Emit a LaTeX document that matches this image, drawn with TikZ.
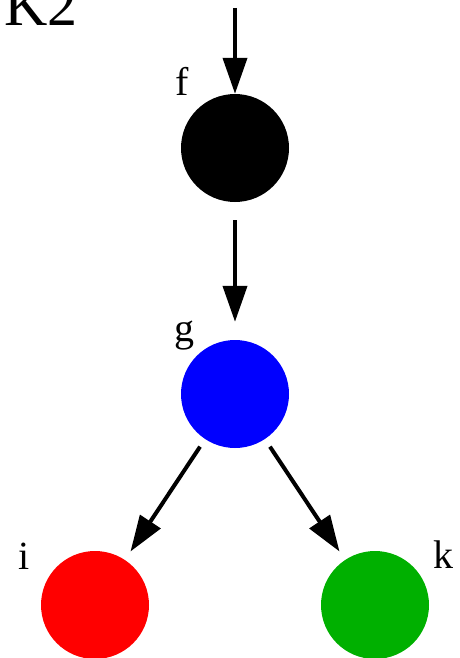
\documentclass[tikz,border=0pt]{standalone}
\usepackage{fontspec}
\setmainfont{Liberation Serif}
\usetikzlibrary{arrows.meta}
\definecolor{kgreen}{RGB}{0,176,0}
\begin{document}
\begin{tikzpicture}[x=1pt,y=-1pt,
  vert/.style={circle,inner sep=0pt,minimum size=108pt,draw=none},
  lbl/.style={anchor=base west,inner sep=0pt,font=\fontsize{40}{48}\selectfont},
  edge/.style={line width=4pt,-{Triangle[length=36pt,width=24pt]}}]
\useasboundingbox (0,0) rectangle (459,658);
\node[anchor=base west,inner sep=0pt,font=\fontsize{60}{72}\selectfont] (title) at (4,26) {K2};
\node[vert,fill=black] (f) at (235,148) {};
\node[vert,fill=blue] (g) at (235,394) {};
\node[vert,fill=red] (i) at (95,605) {};
\node[vert,fill=kgreen] (k) at (375,605) {};
\node[lbl] (lf) at (175,96) {f};
\node[lbl] (lg) at (174,341) {g};
\node[lbl] (li) at (18,569) {i};
\node[lbl] (lk) at (433,568) {k};
\coordinate (top) at (235,8);
\draw[edge] (top) -- (f);
\draw[edge,shorten <=18pt,shorten >=18pt] (f) -- (g);
\draw[edge,shorten <=9pt,shorten >=10pt] (g) -- (i);
\draw[edge,shorten <=9pt,shorten >=10pt] (g) -- (k);
\end{tikzpicture}
\end{document}
